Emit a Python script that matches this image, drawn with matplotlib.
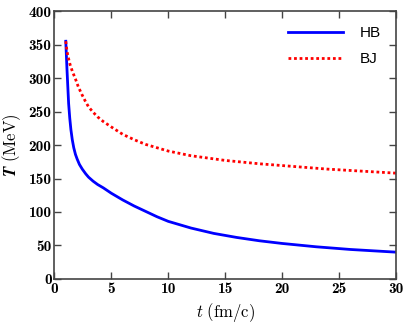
import matplotlib
matplotlib.use("Agg")
import matplotlib.pyplot as plt

plt.rcParams['mathtext.fontset'] = 'cm'

t_hb = [1.0, 1.05, 1.1, 1.17, 1.25, 1.35, 1.45, 1.57, 1.7, 1.85, 2.0, 2.2,
        2.45, 2.75, 3.0, 3.4, 3.8, 4.3, 5.0, 6.0, 7.0, 8.0, 9.0, 10.0,
        12.0, 14.0, 16.0, 18.0, 20.0, 23.0, 26.0, 30.0]
T_hb = [355, 335, 315, 290, 262, 240, 223, 208, 196, 186, 179, 171,
        164, 157, 152, 146, 141, 136, 128, 118, 109, 101, 93, 86,
        76, 68, 62, 57, 53, 48, 44, 40]

t_bj = [1.0, 1.1, 1.2, 1.38, 1.6, 1.82, 2.1, 2.4, 2.7, 3.0, 3.4, 3.8, 4.3,
        5.0, 6.0, 7.0, 8.0, 10.0, 12.0, 15.0, 18.0, 21.0, 24.0, 27.0, 30.0]
T_bj = [355, 341, 332, 320, 309, 300, 287, 276, 266, 257, 249, 242, 235,
        227, 216, 208, 201, 191, 184, 177, 172, 168, 164, 161, 158]

xticks = [0, 5, 10, 15, 20, 25, 30]
yticks = [0, 50, 100, 150, 200, 250, 300, 350, 400]

fig = plt.figure(figsize=(4.09, 3.27), dpi=100)
ax = fig.add_axes([0.133, 0.147, 0.835, 0.819])

ax.plot(t_hb, T_hb, color='#0000ff', lw=2.0, label='HB')
ax.plot(t_bj, T_bj, color='#ff0000', lw=2.0, linestyle=(0, (1, 1)), label='BJ')

ax.set_xlim(0, 30)
ax.set_ylim(0, 400)
ax.set_xticks(xticks)
ax.set_yticks(yticks)
ax.set_xticklabels([str(v) for v in xticks], fontsize=11, family='cmb10')
ax.set_yticklabels([str(v) for v in yticks], fontsize=11, family='cmb10')
ax.tick_params(direction='in', top=True, right=True, length=5, width=1,
               color='#444444', pad=2)
for s in ax.spines.values():
    s.set_color('#444444')
    s.set_linewidth(1.2)

ax.set_xlabel(r'$t\ \mathrm{(fm/c)}$', fontsize=12, labelpad=4)
ax.set_ylabel(r'$\boldsymbol{T}\ \mathrm{(MeV)}$', fontsize=12, labelpad=4)

leg = ax.legend(loc='upper right', frameon=False,
                prop={'family': 'Liberation Sans', 'size': 11},
                handlelength=3.6, handletextpad=1.1, labelspacing=0.75,
                borderaxespad=0.6)

fig.savefig('out.png', dpi=100)
